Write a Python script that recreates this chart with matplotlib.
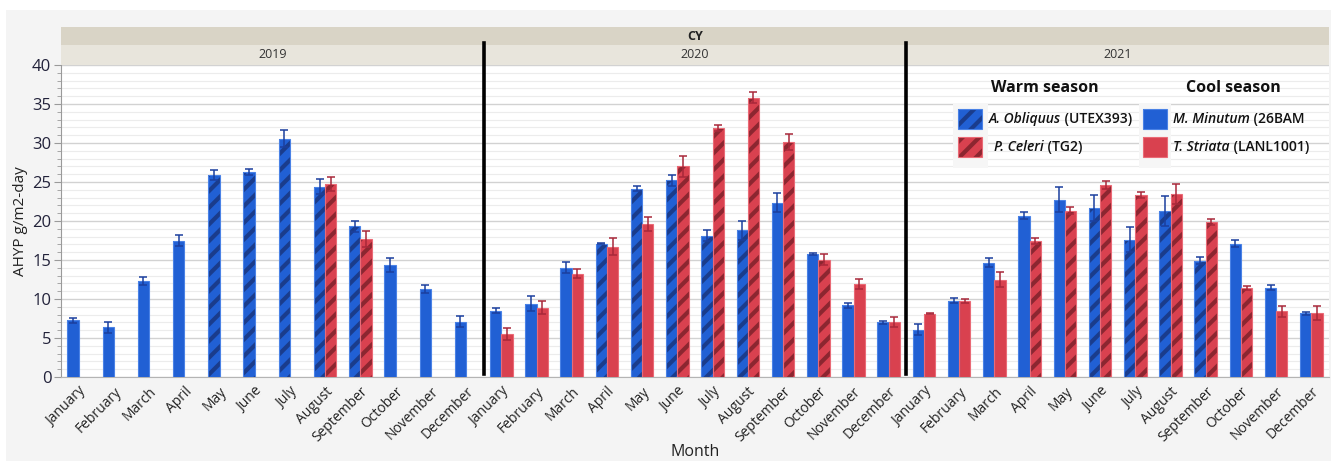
import numpy as np
import matplotlib
matplotlib.use("Agg")
import matplotlib.pyplot as plt
from matplotlib.patches import Rectangle
from matplotlib.lines import Line2D
from matplotlib.ticker import MultipleLocator

plt.rcParams['font.family'] = ['Open Sans', 'DejaVu Sans']
plt.rcParams['hatch.linewidth'] = 3.0

years = ['2019', '2020', '2021']
months = ['January', 'February', 'March', 'April', 'May', 'June', 'July',
          'August', 'September', 'October', 'November', 'December']

N = None
# Areal HYP (g/m2-day), Jan 2019 .. Dec 2021, one row of 12 months per year.
# Warm-season strains
obliquus = [N, N, N, N, 25.9, 26.3, 30.55, 24.4, 19.3, N, N, N,
            N, N, N, 17.1, 24.15, 25.2, 18.1, 18.8, N, N, N, N,
            N, N, N, N, N, 21.65, 17.6, 21.3, 14.9, N, N, N]
obliquus_se = [N, N, N, N, 0.65, 0.4, 1.1, 1.0, 0.65, N, N, N,
               N, N, N, 0.1, 0.3, 0.7, 0.7, 1.2, N, N, N, N,
               N, N, N, N, N, 1.7, 1.6, 1.9, 0.45, N, N, N]
celeri = [N, N, N, N, N, N, N, 24.7, 17.7, N, N, N,
          N, N, N, N, N, 27.0, 31.9, 35.8, 30.1, 15.05, N, N,
          N, N, N, 17.4, 21.3, 24.6, 23.3, 23.45, 19.85, 11.4, N, N]
celeri_se = [N, N, N, N, N, N, N, 0.9, 1.05, N, N, N,
             N, N, N, N, N, 1.3, 0.4, 0.7, 1.0, 0.7, N, N,
             N, N, N, 0.4, 0.45, 0.5, 0.4, 1.25, 0.4, 0.25, N, N]
# Cool-season strains
minutum = [7.25, 6.35, 12.35, 17.5, N, N, N, N, N, 14.3, 11.3, 7.1,
           8.5, 9.4, 14.0, N, N, N, N, N, 22.35, 15.8, 9.2, 7.0,
           6.05, 9.8, 14.65, 20.7, 22.75, N, N, N, N, 17.1, 11.45, 8.15]
minutum_se = [0.3, 0.7, 0.5, 0.7, N, N, N, N, N, 0.9, 0.5, 0.7,
              0.3, 1.0, 0.7, N, N, N, N, N, 1.25, 0.1, 0.3, 0.15,
              0.7, 0.35, 0.6, 0.4, 1.55, N, N, N, N, 0.45, 0.35, 0.2]
striata = [N, N, N, N, N, N, N, N, N, N, N, N,
           5.55, 8.9, 13.25, 16.7, 19.6, N, N, N, N, N, 11.9, 7.05,
           8.1, 9.75, 12.5, N, N, N, N, N, N, N, 8.4, 8.2]
striata_se = [N, N, N, N, N, N, N, N, N, N, N, N,
              0.75, 0.8, 0.55, 1.1, 0.85, N, N, N, N, N, 0.65, 0.6,
              0.05, 0.3, 0.95, N, N, N, N, N, N, N, 0.65, 0.85]

BLUE, BLUE_EDGE, BLUE_DARK = '#2160d4', '#4a82e6', '#1a3c8c'
RED, RED_EDGE, RED_DARK = '#d9414f', '#ea6a76', '#8c2630'
BLUE_ERR, RED_ERR = '#1b3f9e', '#a8283a'

W, H = 1331, 461
fig = plt.figure(figsize=(W / 100, H / 100), dpi=100, facecolor='white')


def fx(px):
    return px / W


def fy(py):
    return 1 - py / H


# light grey frame behind the whole chart
fig.add_artist(Rectangle((fx(6), 0), 1 - fx(6), fy(10), transform=fig.transFigure,
                         facecolor='#f4f4f4', edgecolor='none', zorder=-10))

x_left, x_right = 61, 1329
y_top, y_bot = 65, 377
pw = (x_right - x_left) / 3

bw = 0.32
series = [
    (obliquus, obliquus_se, -bw / 2, BLUE, BLUE_EDGE, BLUE_DARK, BLUE_ERR, True),
    (minutum, minutum_se, -bw / 2, BLUE, BLUE_EDGE, BLUE_DARK, BLUE_ERR, False),
    (celeri, celeri_se, bw / 2, RED, RED_EDGE, RED_DARK, RED_ERR, True),
    (striata, striata_se, bw / 2, RED, RED_EDGE, RED_DARK, RED_ERR, False),
]

axes = []
for k, year in enumerate(years):
    ax = fig.add_axes([fx(x_left + k * pw), fy(y_bot), fx(pw), (y_bot - y_top) / H])
    axes.append(ax)
    pos = np.arange(12)
    for vals, errs, off, fc, ec, dark, errc, warm in series:
        v = np.array([np.nan if a is None else a for a in vals[12 * k:12 * k + 12]], float)
        e = np.array([np.nan if a is None else a for a in errs[12 * k:12 * k + 12]], float)
        m = ~np.isnan(v)
        if not m.any():
            continue
        xs = pos[m] + off
        if warm:
            ax.bar(xs, v[m], width=bw, color=fc, edgecolor=dark, linewidth=0,
                   hatch='//', zorder=3)
        else:
            ax.bar(xs, v[m], width=bw, color=fc, linewidth=0, zorder=3)
        ax.bar(xs, v[m], width=bw, fill=False, edgecolor=ec, linewidth=0.8, zorder=4)
        ax.errorbar(xs, v[m], yerr=e[m], fmt='none', ecolor=errc, elinewidth=1.1,
                    capsize=2.6, capthick=1.1, zorder=5)

    ax.set_xlim(-0.5, 11.5)
    ax.set_ylim(0, 40)
    ax.yaxis.set_major_locator(MultipleLocator(5))
    ax.yaxis.set_minor_locator(MultipleLocator(1))
    ax.grid(which='major', axis='y', color='#d2d2d2', linewidth=1.0, zorder=0)
    ax.grid(which='minor', axis='y', color='#ececec', linewidth=0.8, zorder=0)
    ax.set_axisbelow(True)
    for s in ('top', 'right'):
        ax.spines[s].set_visible(False)
    ax.spines['bottom'].set_color('#b4b4b4')
    ax.set_xticks(pos)
    ax.set_xticklabels(months, rotation=45, ha='right', rotation_mode='anchor',
                       fontsize=10, color='#222222')
    ax.tick_params(axis='x', length=0, pad=5)
    if k == 0:
        ax.spines['left'].set_color('#9a9a9a')
        ax.tick_params(axis='y', which='major', length=5, color='#9a9a9a',
                       labelsize=12, labelcolor='#22223a', pad=2)
        ax.tick_params(axis='y', which='minor', length=3, color='#9a9a9a')
        ax.set_ylabel('AHYP g/m2-day', fontsize=11, color='#222222', labelpad=3)
    else:
        ax.spines['left'].set_visible(False)
        ax.tick_params(axis='y', which='both', left=False, labelleft=False)

    # year strip
    fig.add_artist(Rectangle((fx(x_left + k * pw), fy(y_top)), fx(pw), (y_top - 45) / H,
                             transform=fig.transFigure, facecolor='#e8e5dc',
                             edgecolor='none'))
    fig.text(fx(x_left + (k + 0.5) * pw), fy(55), year, ha='center', va='center',
             fontsize=9, color='#333333')

# calendar-year strip
fig.add_artist(Rectangle((fx(x_left), fy(45)), fx(x_right - x_left), 18 / H,
                         transform=fig.transFigure, facecolor='#d9d4c6', edgecolor='none'))
fig.text(fx((x_left + x_right) / 2), fy(36), 'CY', ha='center', va='center',
         fontsize=9, fontweight='bold', color='#222222')

# heavy separators between years
for k in (1, 2):
    xb = fx(x_left + k * pw)
    fig.add_artist(Line2D([xb, xb], [fy(374), fy(43)], transform=fig.transFigure,
                          color='black', linewidth=2.6, zorder=20))

fig.text(fx(695), fy(452), 'Month', ha='center', va='center', fontsize=11.5,
         color='#222222')

# legend
fig.text(fx(1045), fy(88), 'Warm season', ha='center', va='center', fontsize=11.5,
         fontweight='bold', color='#111111')
fig.text(fx(1233), fy(88), 'Cool season', ha='center', va='center', fontsize=11.5,
         fontweight='bold', color='#111111')

for x0, x1 in ((953, 988), (1139, 1171)):
    fig.add_artist(Rectangle((fx(x0), fy(168)), fx(x1 - x0), 64 / H,
                             transform=fig.transFigure, facecolor='#f6f6f6',
                             edgecolor='none', zorder=6))

entries = [
    (958, 119, BLUE, BLUE_EDGE, BLUE_DARK, True, 'A. Obliquus', ' (UTEX393)', 989),
    (958, 147, RED, RED_EDGE, RED_DARK, True, 'P. Celeri', ' (TG2)', 994),
    (1143, 119, BLUE, BLUE_EDGE, BLUE_DARK, False, 'M. Minutum', ' (26BAM', 1173),
    (1143, 147, RED, RED_EDGE, RED_DARK, False, 'T. Striata', ' (LANL1001)', 1173),
]
renderer = fig.canvas.get_renderer()
for px, py, fc, ec, dark, warm, ital, rest, tx in entries:
    fig.add_artist(Rectangle((fx(px), fy(py + 10)), fx(24), 20 / H,
                             transform=fig.transFigure, facecolor=fc,
                             edgecolor=dark if warm else ec, linewidth=0,
                             hatch='//' if warm else None, zorder=7))
    fig.add_artist(Rectangle((fx(px), fy(py + 10)), fx(24), 20 / H,
                             transform=fig.transFigure, fill=False,
                             edgecolor=ec, linewidth=0.8, zorder=8))
    t = fig.text(fx(tx), fy(py), ital, ha='left', va='center', fontsize=10,
                 fontstyle='italic', fontweight='semibold', color='#111111', zorder=8)
    bb = t.get_window_extent(renderer)
    fig.text(bb.x1 / W, fy(py), rest, ha='left', va='center', fontsize=10,
             fontweight='semibold', color='#111111', zorder=8)

fig.savefig('out.png', dpi=100, facecolor='white')
